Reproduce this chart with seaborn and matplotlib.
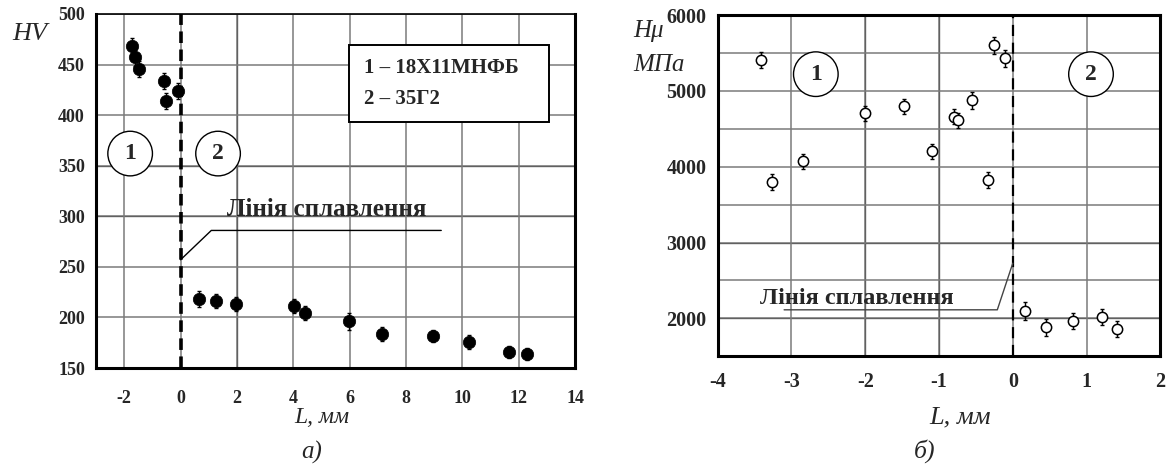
import matplotlib
matplotlib.use("Agg")
import matplotlib.pyplot as plt
from matplotlib.patches import Rectangle
from matplotlib.ticker import MultipleLocator, FuncFormatter
import pandas as pd
import seaborn as sns

# Hardness HV across the weld: distance L (mm) from the fusion line
hv_L = [-1.72, -1.60, -1.49, -0.59, -0.51, -0.08,
        0.66, 1.25, 1.96, 4.03, 4.40, 5.99, 7.13, 8.96, 10.23, 11.66, 12.31]
hv_val = [468, 457, 446, 434, 414, 424,
          218, 216, 213, 211, 204, 196, 184, 182, 176, 166, 164]
hv_err = [8, 8, 8, 8, 8, 8, 8, 7, 7, 7, 7, 8, 7, 6, 7, 6, 6]

# Microhardness Hμ (MPa) near the fusion line
hm_L = [-3.41, -3.27, -2.85, -2.00, -1.47, -1.10, -0.80, -0.74, -0.55,
        -0.34, -0.25, -0.10, 0.16, 0.45, 0.81, 1.21, 1.41]
hm_val = [5405, 3797, 4070, 4706, 4798, 4202, 4657, 4614, 4877,
          3823, 5598, 5431, 2102, 1883, 1966, 2019, 1860]
hm_err = [110, 110, 100, 100, 100, 100, 100, 100, 110,
          110, 110, 110, 120, 110, 100, 100, 100]

legend_lines = ["1 – 18Х11МНФБ", "2 – 35Г2"]
fusion_label = "Лінія сплавлення"

sns.set_style("white")
plt.rcParams["font.family"] = ["Liberation Serif", "DejaVu Serif"]
plt.rcParams["axes.unicode_minus"] = False

fig = plt.figure(figsize=(11.67, 4.66), dpi=100)
ax1 = fig.add_axes([0.0823, 0.2103, 0.4105, 0.7597])
ax2 = fig.add_axes([0.6150, 0.2354, 0.3793, 0.7324])

GRID = "#7a7a7a"
DARK = "#111111"


def style_axes(ax, widths, size, xpad):
    for side, w in widths.items():
        ax.spines[side].set_visible(True)
        ax.spines[side].set_linewidth(w)
        ax.spines[side].set_color("black")
    ax.tick_params(which="major", direction="out", length=4, width=1,
                   labelsize=size, color="black", pad=4)
    ax.tick_params(axis="x", which="major", pad=xpad)
    ax.tick_params(which="minor", direction="out", length=3, width=1,
                   color="black")
    for lab in ax.get_xticklabels() + ax.get_yticklabels():
        lab.set_fontweight("bold")


# ---------------- panel а): HV ----------------
ax1.set_xlim(-3, 14)
ax1.set_ylim(150, 500)
ax1.xaxis.set_major_locator(MultipleLocator(2))
ax1.xaxis.set_minor_locator(MultipleLocator(1))
ax1.yaxis.set_major_locator(MultipleLocator(50))
ax1.yaxis.set_minor_locator(MultipleLocator(25))
ax1.grid(True, which="major", color=GRID, lw=1.1, zorder=0)
ax1.axvline(2, color=DARK, lw=0.9, zorder=0.5)
for gy in [300, 350]:
    ax1.axhline(gy, color=DARK, lw=0.9, zorder=0.5)
ax1.set_axisbelow(True)

df1 = pd.DataFrame({"L": hv_L, "HV": hv_val})
ax1.errorbar(hv_L, hv_val, yerr=hv_err, fmt="none", ecolor="black",
             elinewidth=1, capsize=1.5, capthick=1, zorder=3)
sns.scatterplot(data=df1, x="L", y="HV", ax=ax1, color="black", s=80,
                edgecolor="black", linewidth=0.5, zorder=4, legend=False)
ax1.axvline(0, color="black", lw=2.6, ls=(0, (3.2, 1.8)), zorder=2)

# fusion-line callout
ax1.plot([0, 1.09, 9.25], [257, 286, 286], color="black", lw=1, zorder=2)
ax1.text(1.65, 300, fusion_label, fontsize=18, fontweight="bold",
         ha="left", va="baseline", zorder=5)

# zone markers
for num, xc in [("1", -1.79), ("2", 1.33)]:
    ax1.text(xc, 362, num, fontsize=17, fontweight="bold", ha="center",
             va="center", zorder=5,
             bbox=dict(boxstyle="circle,pad=0.5", fc="white", ec="black", lw=1))

# steel grades box
ax1.add_patch(Rectangle((0.528, 0.695), 0.4177, 0.2174, transform=ax1.transAxes,
                        fc="white", ec="black", lw=1.4, zorder=5))
for line, yy in zip(legend_lines, [0.848, 0.760]):
    ax1.text(0.5595, yy, line, transform=ax1.transAxes, fontsize=15,
             fontweight="bold", ha="left", va="center", zorder=6)

ax1.set_xlabel("")
ax1.set_ylabel("")
style_axes(ax1, {"left": 2.2, "bottom": 2.2, "right": 2.2, "top": 1.2},
           size=13, xpad=11.5)

# ---------------- panel б): Hμ ----------------
ax2.set_xlim(-4, 2)
ax2.set_ylim(1500, 6000)
ax2.xaxis.set_major_locator(MultipleLocator(1))
ax2.xaxis.set_minor_locator(MultipleLocator(0.5))
ax2.yaxis.set_major_locator(MultipleLocator(500))
ax2.yaxis.set_minor_locator(MultipleLocator(250))
ax2.yaxis.set_major_formatter(
    FuncFormatter(lambda v, p: f"{int(v)}" if v % 1000 == 0 and v > 1500 else ""))
ax2.grid(True, which="major", color=GRID, lw=1.1, zorder=0)
for gx in [-2, -1]:
    ax2.axvline(gx, color=DARK, lw=0.9, zorder=0.5)
for gy in [2000, 3000]:
    ax2.axhline(gy, color=DARK, lw=0.9, zorder=0.5)
ax2.set_axisbelow(True)

df2 = pd.DataFrame({"L": hm_L, "Hmu": hm_val})
ax2.errorbar(hm_L, hm_val, yerr=hm_err, fmt="none", ecolor="black",
             elinewidth=1, capsize=1.5, capthick=1, zorder=3)
sns.scatterplot(data=df2, x="L", y="Hmu", ax=ax2, color="white", s=55,
                edgecolor="black", linewidth=1.1, zorder=4, legend=False)
ax2.axvline(0, color="black", lw=1.6, ls=(0, (5, 3)), zorder=2)

ax2.plot([-3.10, -0.21, 0.0], [2113, 2113, 2728], color="#444444", lw=1, zorder=2)
ax2.text(-3.43, 2188, fusion_label, fontsize=17.5, fontweight="bold",
         ha="left", va="baseline", zorder=5)

for num, xc in [("1", -2.67), ("2", 1.06)]:
    ax2.text(xc, 5220, num, fontsize=17, fontweight="bold", ha="center",
             va="center", zorder=5,
             bbox=dict(boxstyle="circle,pad=0.5", fc="white", ec="black", lw=1))

ax2.set_xlabel("")
ax2.set_ylabel("")
style_axes(ax2, {"left": 2.2, "bottom": 2.2, "right": 2.2, "top": 2.2},
           size=14.5, xpad=7)

# axis titles and panel captions
fig.text(0.0253, 0.9142, "HV", fontsize=19, style="italic", ha="center", va="baseline")
fig.text(0.2759, 0.0916, "L, мм", fontsize=17, style="italic", ha="center", va="baseline")
fig.text(0.2674, 0.028, "а)", fontsize=18, style="italic", ha="center", va="center")

fig.text(0.5424, 0.9212, "Hμ", fontsize=18, style="italic", ha="left", va="baseline")
fig.text(0.5424, 0.8483, "МПа", fontsize=18, style="italic", ha="left", va="baseline")
fig.text(0.8229, 0.0908, "L, мм", fontsize=19, style="italic", ha="center", va="baseline")
fig.text(0.7922, 0.0322, "б)", fontsize=18.5, style="italic", ha="center", va="center")

fig.savefig("out.png", dpi=100)
